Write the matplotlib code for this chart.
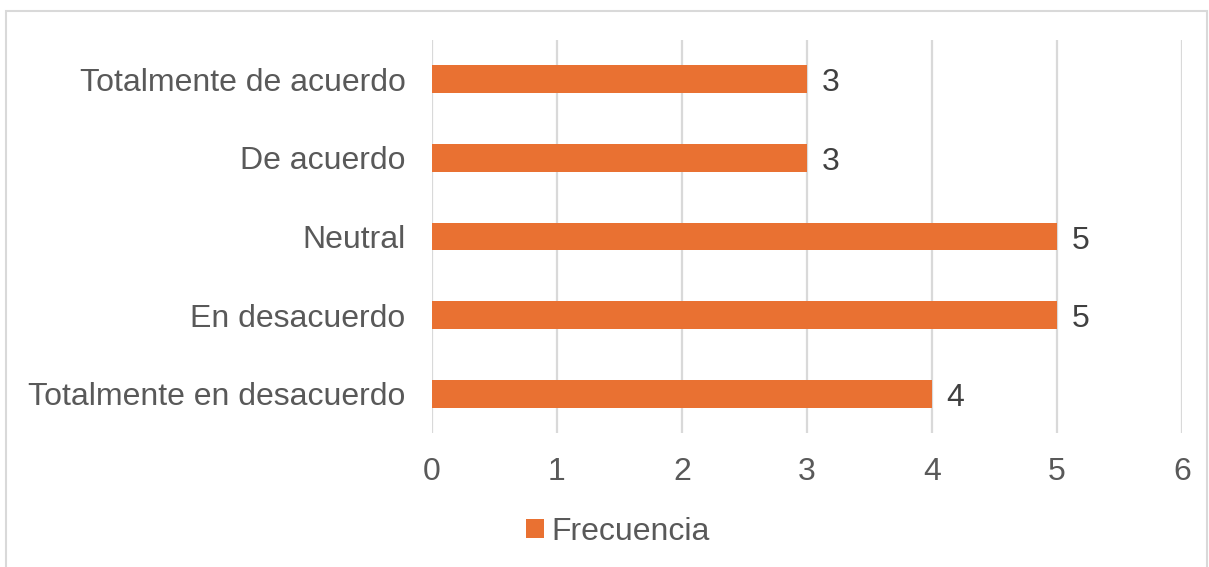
import matplotlib.pyplot as plt
from matplotlib.patches import Rectangle

# Datos de la encuesta
categorias = ["Totalmente en desacuerdo", "En desacuerdo", "Neutral",
              "De acuerdo", "Totalmente de acuerdo"]
frecuencia = [4, 5, 5, 3, 3]
ticks_x = [0, 1, 2, 3, 4, 5, 6]

NARANJA = "#E97132"
GRIS_TEXTO = "#595959"
GRIS_LINEA = "#D9D9D9"

plt.rcParams['font.family'] = ['Liberation Sans', 'DejaVu Sans']

fig = plt.figure(figsize=(12.09, 5.67), dpi=100)
ax = fig.add_axes([432 / 1209, 1 - 433 / 567, 750 / 1209, 393 / 567])

y = range(len(categorias))
barras = ax.barh(y, frecuencia, height=0.355, color=NARANJA, label="Frecuencia", zorder=3)

# Etiquetas de valor al final de cada barra
for yi, v in zip(y, frecuencia):
    ax.annotate(str(v), xy=(v, yi), xytext=(10.5, -0.5), textcoords="offset points",
                ha="left", va="center_baseline", fontsize=23, color="#404040")

ax.set_xlim(0, 6)
ax.set_ylim(-0.5, len(categorias) - 0.5)
ax.set_xticks(ticks_x)
ax.set_yticks(list(y))
ax.set_yticklabels(categorias)

ax.grid(axis="x", color=GRIS_LINEA, linewidth=1.6, zorder=0)
for lado in ax.spines.values():
    lado.set_visible(False)
ax.tick_params(axis="both", length=0, labelsize=23, labelcolor=GRIS_TEXTO)
ax.tick_params(axis="y", pad=19)
ax.tick_params(axis="x", pad=17)

fig.legend(handles=[barras], labels=["Frecuencia"], loc="center",
           bbox_to_anchor=(618 / 1209, 1 - 532 / 567), frameon=False,
           fontsize=23, labelcolor=GRIS_TEXTO, handlelength=0.55,
           handleheight=0.55, handletextpad=0.25)

# Marco del gráfico
fig.patches.append(Rectangle((6 / 1209, -0.02), 1201 / 1209, 1.02 - 10.5 / 567,
                             transform=fig.transFigure, fill=False,
                             edgecolor=GRIS_LINEA, linewidth=1.5))

fig.savefig("out.png", dpi=100)
